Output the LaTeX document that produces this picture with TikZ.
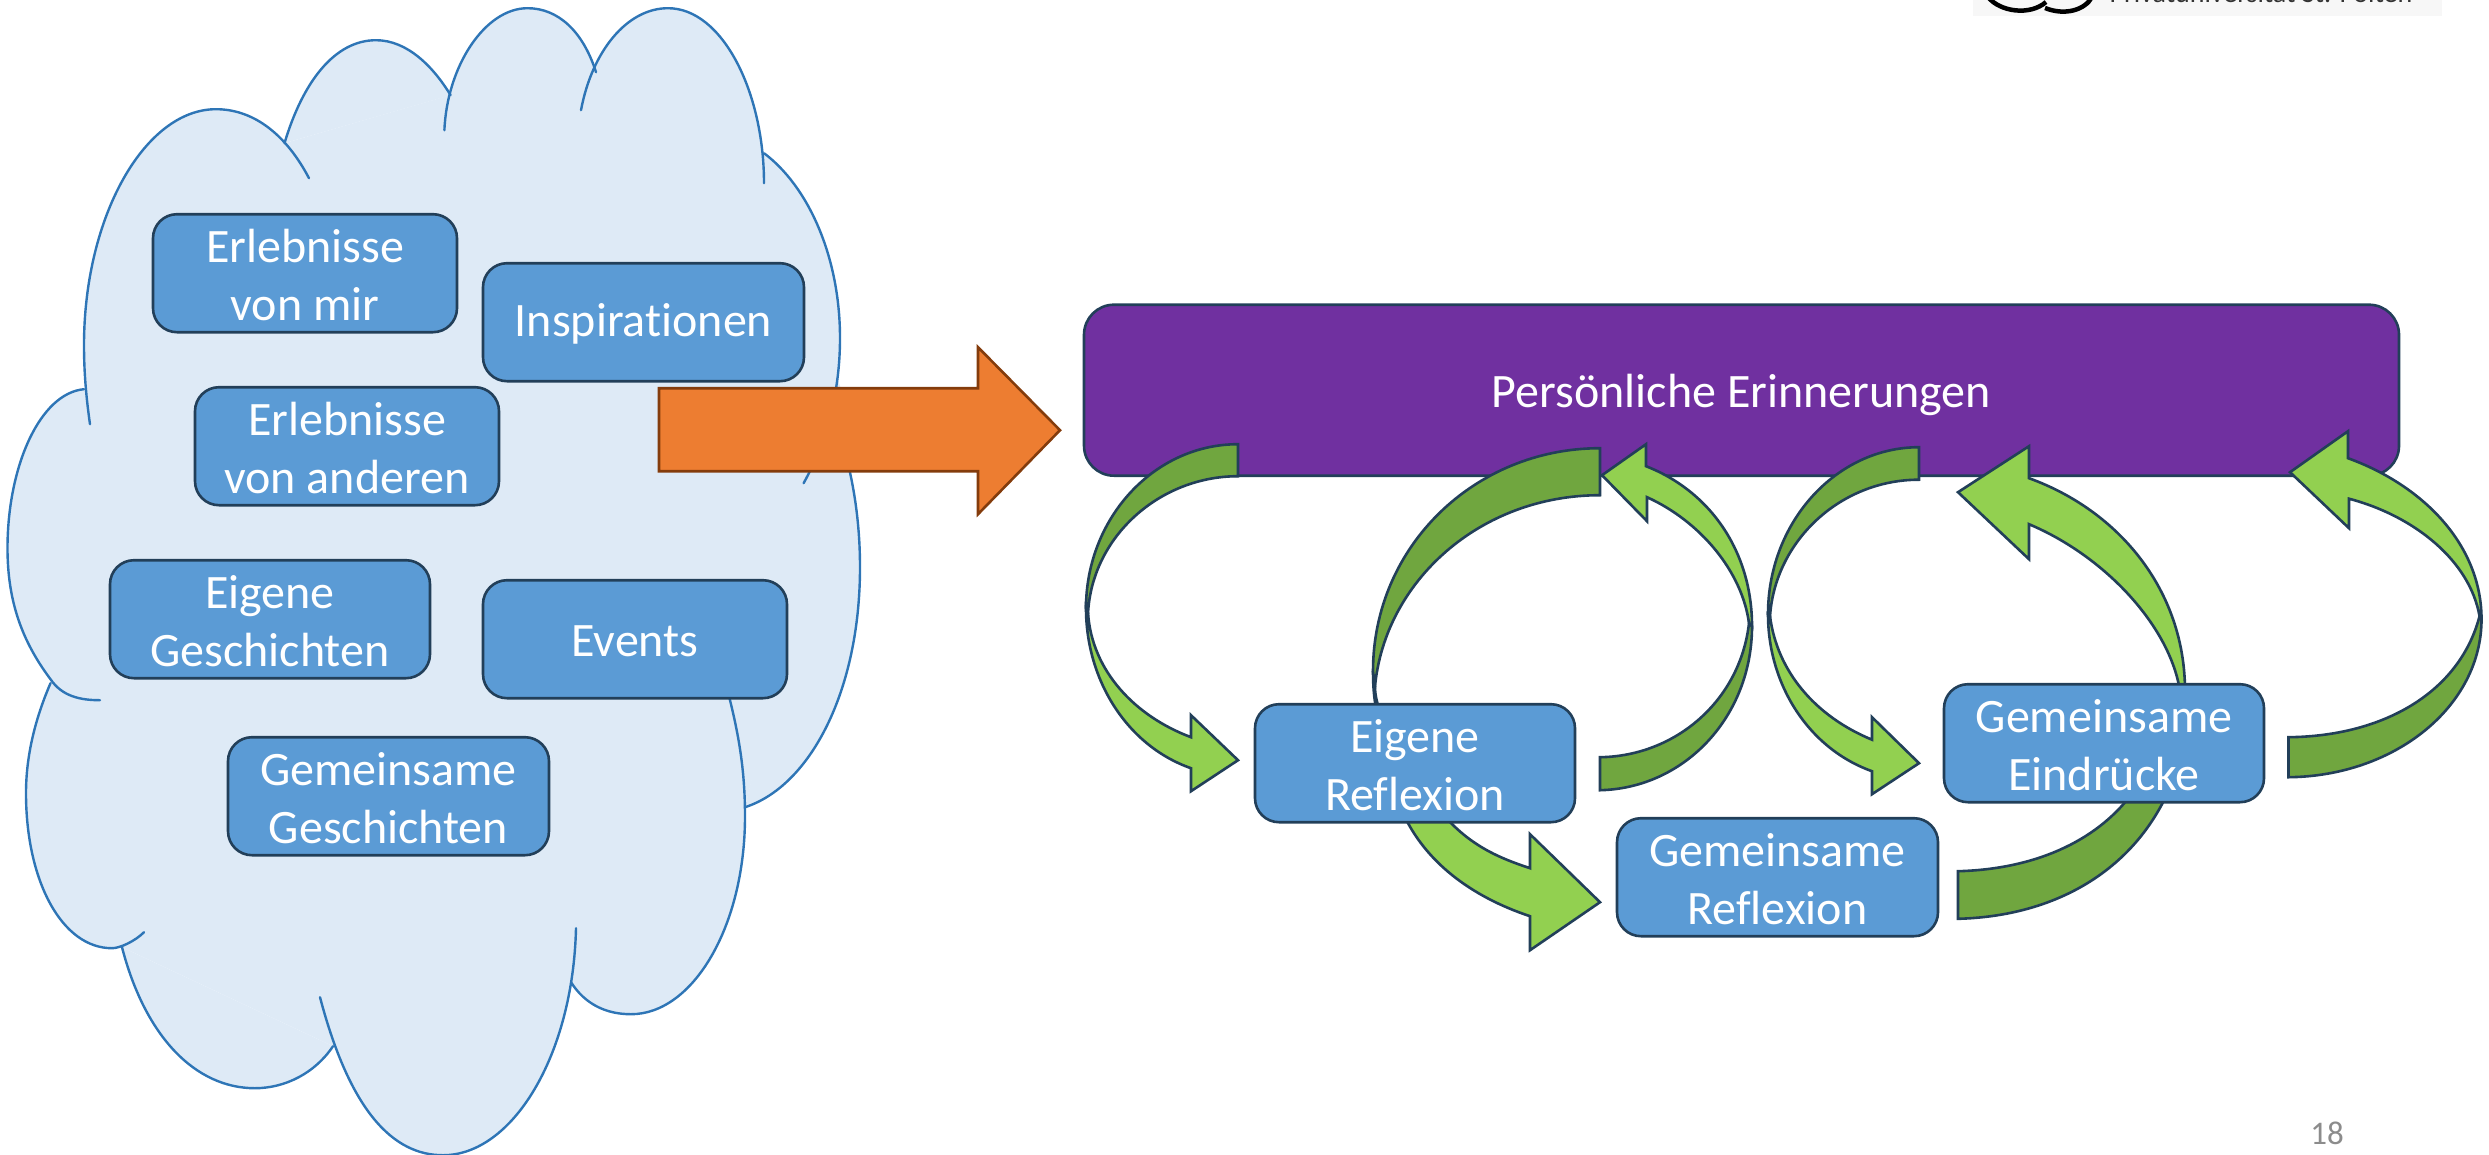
\documentclass[tikz,border=0pt]{standalone}
\usepackage{fontspec}
\setmainfont[Ligatures=NoCommon]{Carlito}
\definecolor{cloudfill}{HTML}{DEEAF6}
\definecolor{cloudline}{HTML}{2E75B6}
\definecolor{boxblue}{HTML}{5B9BD5}
\definecolor{boxline}{HTML}{223F59}
\definecolor{purplebox}{HTML}{7030A0}
\definecolor{orangefill}{HTML}{ED7D31}
\definecolor{orangeline}{HTML}{843C0C}
\definecolor{darkgreen}{HTML}{70A63F}
\definecolor{lightgreen}{HTML}{92D050}
\definecolor{pagegray}{HTML}{8C8C8C}
\tikzset{
  bluebox/.style n args={2}{draw=boxline,fill=boxblue,line width=2.6pt,rounded corners=24pt,
    minimum width=#1,minimum height=#2,inner sep=0pt,align=center,text=white,
    font=\fontsize{48}{57.5}\selectfont},
  lobe/.style={draw=cloudline,line width=2.4pt,line cap=round},
  darkarrow/.style={draw=boxline,fill=darkgreen,line width=2.6pt,line join=miter},
  lightarrow/.style={draw=boxline,fill=lightgreen,line width=2.6pt,line join=miter}
}
\newcommand\tx[1]{\raisebox{-2pt}[\height][\depth]{#1}}
\def\lobeA{(90,423) .. controls (86,395) and (84,370) .. (84,344) .. controls (84,215) and (145,108) .. (216,108) .. controls (255,108) and (287,135) .. (309,177)}
\def\lobeB{(284.5,142) .. controls (303,80) and (335,39) .. (376,39) .. controls (407,39) and (433,65) .. (450.6,94)}
\def\lobeC{(444.4,129) .. controls (447,65) and (485,7) .. (527.5,7) .. controls (558,7) and (583,30) .. (596,71)}
\def\lobeD{(581,109) .. controls (592,50) and (627,7) .. (668,7) .. controls (722,7) and (764,90) .. (764,182)}
\def\lobeE{(764,152) .. controls (808,185) and (840,255) .. (840,337) .. controls (840,390) and (827,440) .. (803.6,482)}
\def\lobeF{(835,420) .. controls (850,460) and (860,510) .. (860,566) .. controls (860,690) and (810,785) .. (745,806)}
\def\lobeG{(729.5,697) .. controls (739,735) and (745,770) .. (745,815) .. controls (745,925) and (693,1013) .. (631,1013) .. controls (606,1013) and (585,1003) .. (571,981)}
\def\lobeH{(576,927) .. controls (573,1055) and (512,1154) .. (443,1154) .. controls (393,1154) and (350,1110) .. (320,996)}
\def\lobeI{(333,1045) .. controls (315,1072) and (285,1087) .. (255,1087) .. controls (195,1087) and (145,1035) .. (122,946)}
\def\lobeJ{(144,931) .. controls (135,940) and (120,947) .. (112,947) .. controls (62,947) and (26,880) .. (26,792) .. controls (26,755) and (35,718) .. (50.5,682)}
\def\lobeK{(100,699) .. controls (80,699) and (62,695) .. (50.5,678) .. controls (22,640) and (7.5,600) .. (7.5,547) .. controls (7.5,465) and (40,392) .. (84,388)}
\begin{document}
\begin{tikzpicture}[x=1pt,y=-1pt]
\useasboundingbox (0,0) rectangle (2489,1154);
% logo fragment
\fill[black!3] (1973,-5) rectangle (2442,16);
\draw[black,line width=4.5pt] (1988,-3) .. controls (2000,12) and (2030,16) .. (2046,2);
\draw[black,line width=4.5pt] (2045,8) .. controls (2065,16) and (2085,10) .. (2092,-3);
\node[anchor=base,text=black!80,font=\fontsize{28}{34}\selectfont,inner sep=0pt] (logotext) at (2261,2) {Privatuniversität St. Pölten};
\begin{scope}[yshift=-1.2pt]
% cloud
\fill[cloudfill] (84,388) -- (284.5,142) -- (450,94) -- (596,71) -- (764,152) -- (845,400) -- (745,806) -- (571,981) -- (333,1045) -- (122,946) -- (50.5,682) -- cycle;
\foreach \l in {\lobeA,\lobeB,\lobeC,\lobeD,\lobeE,\lobeF,\lobeG,\lobeH,\lobeI,\lobeJ,\lobeK}{\fill[cloudfill] \l -- cycle;}
\foreach \l in {\lobeA,\lobeB,\lobeC,\lobeD,\lobeE,\lobeF,\lobeG,\lobeH,\lobeI,\lobeJ,\lobeK}{\draw[lobe] \l;}
% cloud boxes
\node[bluebox={304pt}{118pt}] (erlmir) at (305,272) {\tx{Erlebnisse}\\\tx{von mir}};
\node[bluebox={321pt}{118pt}] (insp) at (643.5,321) {\tx{Inspirationen}};
\node[bluebox={304pt}{118pt}] (erland) at (347,445) {\tx{Erlebnisse}\\\tx{von anderen}};
\node[bluebox={320pt}{118pt}] (eiggesch) at (270,618) {\tx{Eigene}\\\tx{Geschichten}};
\node[bluebox={304pt}{118pt}] (events) at (635,638) {\tx{Events}};
\node[bluebox={321pt}{118pt}] (gemgesch) at (388.5,795) {\tx{Gemeinsame}\\\tx{Geschichten}};
% orange arrow
\draw[draw=orangeline,fill=orangefill,line width=2.6pt] (659,387) -- (978,387) -- (978,346) -- (1060,429) -- (978,513) -- (978,470) -- (659,470) -- cycle;
% purple box
\node[bluebox={1315pt}{171pt},fill=purplebox,rounded corners=30pt] (erinn) at (1741.5,389) {\raisebox{-4.5pt}[\height][\depth]{Persönliche Erinnerungen}};
% curved arrows behind the boxes
\draw[lightarrow] (1373,670) .. controls (1373,685) and (1374,698) .. (1377,712) -- (1380,712) .. controls (1377,700) and (1375,695) .. (1375,685) -- cycle;
\draw[darkarrow] (1600,447) .. controls (1475,447) and (1373,545) .. (1373,670) -- (1375,685) .. controls (1385,580) and (1480,494) .. (1600,494) -- cycle;
\draw[lightarrow] (1403,812) .. controls (1425,860) and (1470,895) .. (1530,915) -- (1530,949) -- (1600,901) -- (1530,833) -- (1530,867) .. controls (1500,857) and (1470,845) .. (1442,812) -- cycle;
\draw[darkarrow] (1958,917.6) .. controls (2055,915) and (2130,870) .. (2166,795) -- (2130,795) .. controls (2095,840) and (2035,868) .. (1958,870) -- cycle;
\draw[lightarrow] (2185,690) .. controls (2185,590) and (2120,510) .. (2029,477) -- (2029,445) -- (1958,491) -- (2029,558) -- (2029,523) .. controls (2105,555) and (2170,625) .. (2180,690) -- cycle;
% curved arrows beside the boxes
\draw[darkarrow] (1238,443) .. controls (1154,443) and (1086,517) .. (1086,607) -- (1088,612) .. controls (1092,535) and (1160,475) .. (1238,475) -- cycle;
\draw[lightarrow] (1086,607) .. controls (1086,680) and (1128,745) .. (1191,767) -- (1191,790) -- (1238,759) -- (1191,714) -- (1191,736) .. controls (1135,715) and (1092,670) .. (1088,612) -- cycle;
\draw[darkarrow] (1600,789) .. controls (1685,787) and (1752,715) .. (1752,625) -- (1749,622) .. controls (1740,700) and (1675,755) .. (1600,756) -- cycle;
\draw[lightarrow] (1752,625) .. controls (1752,550) and (1710,490) .. (1646,465) -- (1646,443) -- (1602,474) -- (1647,520) -- (1647,496) .. controls (1700,520) and (1742,570) .. (1749,622) -- cycle;
\draw[darkarrow] (1919,446) .. controls (1837,446) and (1768,520) .. (1768,613) -- (1770,615) .. controls (1775,540) and (1840,478.5) .. (1919,478.5) -- cycle;
\draw[lightarrow] (1768,613) .. controls (1768,685) and (1810,748) .. (1872,770) -- (1872,793) -- (1919,762) -- (1872,716) -- (1872,738.5) .. controls (1815,715) and (1777,670) .. (1770,615) -- cycle;
\draw[darkarrow] (2288.5,776) .. controls (2395,775) and (2481.5,705) .. (2481.5,618) -- (2479.5,615) .. controls (2460,690) and (2385,735) .. (2288.5,736) -- cycle;
\draw[lightarrow] (2481.5,618) .. controls (2481.5,545) and (2425,485) .. (2348,457) -- (2348,430) -- (2290,471) -- (2349,527) -- (2349,497.5) .. controls (2415,515) and (2470,560) .. (2479.5,615) -- cycle;
% reflection boxes
\node[bluebox={320pt}{118pt}] (eigrefl) at (1415,762) {\tx{Eigene}\\\tx{Reflexion}};
\node[bluebox={321pt}{118pt}] (gemrefl) at (1777.5,876) {\tx{Gemeinsame}\\\tx{Reflexion}};
\node[bluebox={320pt}{118pt}] (gemeind) at (2104,742) {\tx{Gemeinsame}\\\tx{Eindrücke}};
\end{scope}
% page number
\node[text=pagegray,font=\fontsize{33}{38}\selectfont,inner sep=0pt] (pagenum) at (2327,1133) {18};
\end{tikzpicture}
\end{document}
